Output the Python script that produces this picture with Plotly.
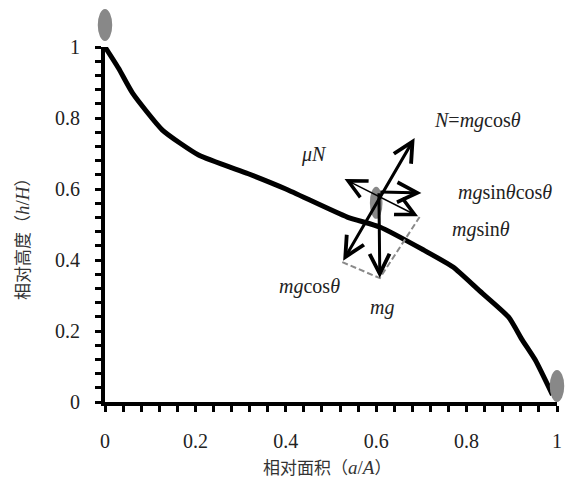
import plotly.graph_objects as go

# Hypsometric curve (relative area vs relative height)
area = [0, 0.03, 0.061, 0.127, 0.208, 0.317, 0.4, 0.536, 0.608, 0.705, 0.77, 0.827, 0.893, 0.923, 0.952, 0.99]
height = [1, 0.94, 0.87, 0.766, 0.695, 0.643, 0.6, 0.521, 0.493, 0.428, 0.38, 0.315, 0.239, 0.175, 0.118, 0.02]

tick_vals = [0, 0.2, 0.4, 0.6, 0.8, 1]
tick_text = ["0", "0.2", "0.4", "0.6", "0.8", "1"]

# Force diagram points (data coordinates)
origin = (0.606, 0.592)
n_tip = (0.685, 0.744)
mgcos_tip = (0.525, 0.394)
mg_tip = (0.608, 0.349)
mun_tip = (0.530, 0.628)
mgsin_tip = (0.696, 0.521)
mgsincos_tip = (0.700, 0.589)

SERIF = "Times New Roman, Liberation Serif, DejaVu Serif, serif"
CJK = "Noto Sans CJK SC"

fig = go.Figure()
fig.add_trace(go.Scatter(x=area, y=height, mode="lines",
                         line=dict(color="black", width=5, shape="spline", smoothing=0.5),
                         showlegend=False, hoverinfo="skip"))

# dashed construction lines
fig.add_trace(go.Scatter(x=[mgcos_tip[0], mg_tip[0], mgsin_tip[0]],
                         y=[mgcos_tip[1], mg_tip[1], mgsin_tip[1]],
                         mode="lines", line=dict(color="#8a8a8a", width=2, dash="6px,3px"),
                         showlegend=False, hoverinfo="skip"))

axis_common = dict(range=[0, 1], tickvals=tick_vals, ticktext=tick_text,
                   showgrid=False, zeroline=False, showline=True, linecolor="black", linewidth=4,
                   ticks="outside", ticklen=6, tickwidth=3, tickcolor="black",
                   minor=dict(ticks="outside", dtick=0.04, ticklen=6, tickwidth=2.5, tickcolor="black"),
                   tickfont=dict(family=SERIF, size=20, color="#222"))

fig.update_xaxes(**axis_common, ticklabelstandoff=12)
fig.update_yaxes(**axis_common, ticklabelstandoff=11)

shapes = []
# gray blobs
for cx, cy, hw, hh in [(0.0, 1.062, 0.016, 0.045), (1.0, 0.045, 0.016, 0.045), (0.600, 0.561, 0.014, 0.045)]:
    shapes.append(dict(type="circle", xref="paper", yref="paper", x0=cx - hw, x1=cx + hw,
                       y0=cy - hh, y1=cy + hh, fillcolor="#888888", line=dict(width=0), layer="above"))

annotations = []

def arrow(tail, head, width, both=False, size=1.0):
    annotations.append(dict(x=head[0], y=head[1], ax=tail[0], ay=tail[1], xref="x", yref="y",
                            axref="x", ayref="y", text="", showarrow=True, arrowhead=5,
                            startarrowhead=5, arrowside="end+start" if both else "end",
                            arrowsize=size, startarrowsize=size, arrowwidth=width, arrowcolor="black"))

arrow(mgcos_tip, n_tip, 3, both=True, size=1.3)
arrow(origin, mg_tip, 3, size=1.3)
arrow(mgsin_tip, mun_tip, 1.5, both=True, size=2.4)
arrow(origin, mgsincos_tip, 3, size=1.3)

labels = [
    ("<i>N</i>=<i>mg</i>cos<i>θ</i>", 0.823, 0.794),
    ("<i>μN</i>", 0.462, 0.696),
    ("<i>mg</i>sin<i>θ</i>cos<i>θ</i>", 0.884, 0.589),
    ("<i>mg</i>sin<i>θ</i>", 0.832, 0.485),
    ("<i>mg</i>cos<i>θ</i>", 0.453, 0.324),
    ("<i>mg</i>", 0.613, 0.265),
]
for t, x, y in labels:
    annotations.append(dict(text=t, x=x, y=y, xref="x", yref="y", showarrow=False,
                            xanchor="center", yanchor="middle",
                            font=dict(family=SERIF, size=20, color="#222")))

annotations.append(dict(text="相对面积（<span style='font-family:Liberation Serif;font-size:19px'><i>a</i>/<i>A</i></span>）",
                        x=0.492, y=-0.183, xref="paper", yref="paper", showarrow=False,
                        xanchor="center", yanchor="middle",
                        font=dict(family=CJK, size=17, color="#333")))
annotations.append(dict(text="相对高度（<span style='font-family:Liberation Serif;font-size:19px'><i>h</i>/<i>H</i></span>）",
                        x=-0.186, y=0.473, xref="paper", yref="paper", showarrow=False, textangle=-90,
                        xanchor="center", yanchor="middle",
                        font=dict(family=CJK, size=17, color="#333")))

fig.update_layout(width=573, height=488, margin=dict(l=105, r=11, t=47, b=86),
                  plot_bgcolor="white", paper_bgcolor="white",
                  shapes=shapes, annotations=annotations, showlegend=False)

fig.write_html("out.html")
